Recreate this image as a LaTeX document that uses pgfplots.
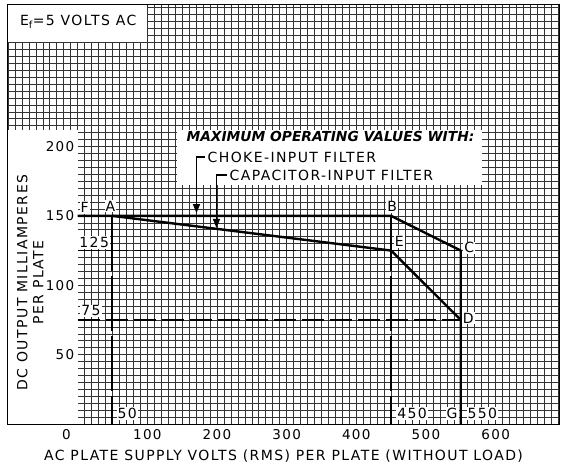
\documentclass[border=0pt]{standalone}
\usepackage{fontspec}
\setmainfont[LetterSpace=10]{DejaVu Sans}
\newfontfamily\headfont{DejaVu Sans}
\usepackage{pgfplots}
\pgfplotsset{compat=1.18}
\usetikzlibrary{arrows.meta,calc}

\begin{document}
\begin{tikzpicture}
\begin{axis}[
  set layers,
  scale only axis, width=551pt, height=419pt,
  xmin=-100, xmax=691, ymin=0, ymax=302,
  axis line style={black, line width=1pt},
  xtick={0,100,...,600},
  xticklabels={\llap{0\hspace{7pt}},100,200,300,400,500,600},
  ytick={50,100,150,200},
  minor xtick={-100,-90,...,690},
  minor ytick={0,5,...,300},
  grid=both,
  grid style={black!80, line width=0.6pt},
  major grid style={black!80, line width=0.6pt},
  major tick length=0, minor tick length=0,
  tick label style={font=\fontsize{13.5}{15}\selectfont},
  xticklabel style={yshift=-2pt},
  yticklabel style={anchor=east, xshift=69.75pt},
  /pgf/number format/assume math mode=true,
  xlabel={AC PLATE SUPPLY VOLTS (RMS) PER PLATE (WITHOUT LOAD)},
  xlabel style={font=\fontsize{14}{16}\selectfont, yshift=-3pt},
  clip=false,
]
% white panels of the printed chart, above the grid and below the tick labels
\begin{pgfonlayer}{axis ticks}
\fill[white] (axis cs:-100,0) rectangle (axis cs:0,212);
\fill[white] (axis cs:-100,275) rectangle (axis cs:100,302);
\fill[white] (axis cs:143,172) rectangle (axis cs:580,212);
\end{pgfonlayer}

% choke-input filter limit F-A-B-C-G
\addplot[black, line width=2.4pt, line join=round] coordinates {(0,150) (450,150) (550,125) (550,0)};
% capacitor-input filter limit A-E-D
\addplot[black, line width=2.4pt, line join=round] coordinates {(50,150) (450,125) (550,75)};
% dashed guides
\addplot[black, line width=2pt, dash pattern=on 55pt off 5pt] coordinates {(50,150) (50,0)};
\addplot[black, line width=2pt, dash pattern=on 55pt off 5pt] coordinates {(450,150) (450,0)};
\addplot[black, line width=1.6pt, dash pattern=on 22pt off 6pt] coordinates {(0,125) (550,125)};
\addplot[black, line width=1.6pt, dash pattern=on 22pt off 6pt] coordinates {(0,75) (550,75)};

\begin{scope}[every node/.style={font=\fontsize{14}{15}\selectfont, fill=white, inner sep=1pt}]
\node at (axis cs:10,156) {F};
\node at (axis cs:47,157) {A};
\node at (axis cs:451.6,156.5) {B};
\node at (axis cs:562,127) {C};
\node at (axis cs:461.6,131.6) {E};
\node at (axis cs:560.6,76.4) {D};
\node at (axis cs:23.7,131) {125};
\node at (axis cs:19,81.5) {75};
\node at (axis cs:71,7.5) {50};
\node at (axis cs:480,7.5) {450};
\node at (axis cs:537.6,7.5) {G};
\node at (axis cs:581,7.5) {550};
\end{scope}

\node[anchor=west, font=\fontsize{14}{15}\selectfont, inner sep=0pt] at (axis cs:-83,290) {E\textsubscript{f}=5 VOLTS AC};
\node[rotate=90, align=center, font=\fontsize{14}{16}\selectfont] at (axis cs:-68,102) {DC OUTPUT MILLIAMPERES\\PER PLATE};

\node[anchor=west, inner sep=0pt, font=\headfont\fontsize{13.8}{15}\selectfont\bfseries\itshape] at (axis cs:156,207) {MAXIMUM OPERATING VALUES WITH:};
\node[anchor=west, inner sep=0pt, font=\fontsize{14}{15}\selectfont] at (axis cs:186.4,192.5) {CHOKE-INPUT FILTER};
\node[anchor=west, inner sep=0pt, font=\fontsize{14}{15}\selectfont] at (axis cs:218,179.5) {CAPACITOR-INPUT FILTER};
\draw[black, line width=1.3pt, -{Triangle[length=9pt,width=7pt]}] (axis cs:183,192.5) -- (axis cs:170.6,192.5) -- (axis cs:170.6,152);
\draw[black, line width=1.3pt, -{Triangle[length=9pt,width=7pt]}] (axis cs:215,179.5) -- (axis cs:199.3,179.5) -- (axis cs:199.3,141.3);
\end{axis}
\pgfresetboundingbox
\path[use as bounding box] ($(current axis.south west)+(-8pt,-40pt)$) rectangle ($(current axis.north east)+(5pt,5pt)$);
\end{tikzpicture}
\end{document}
